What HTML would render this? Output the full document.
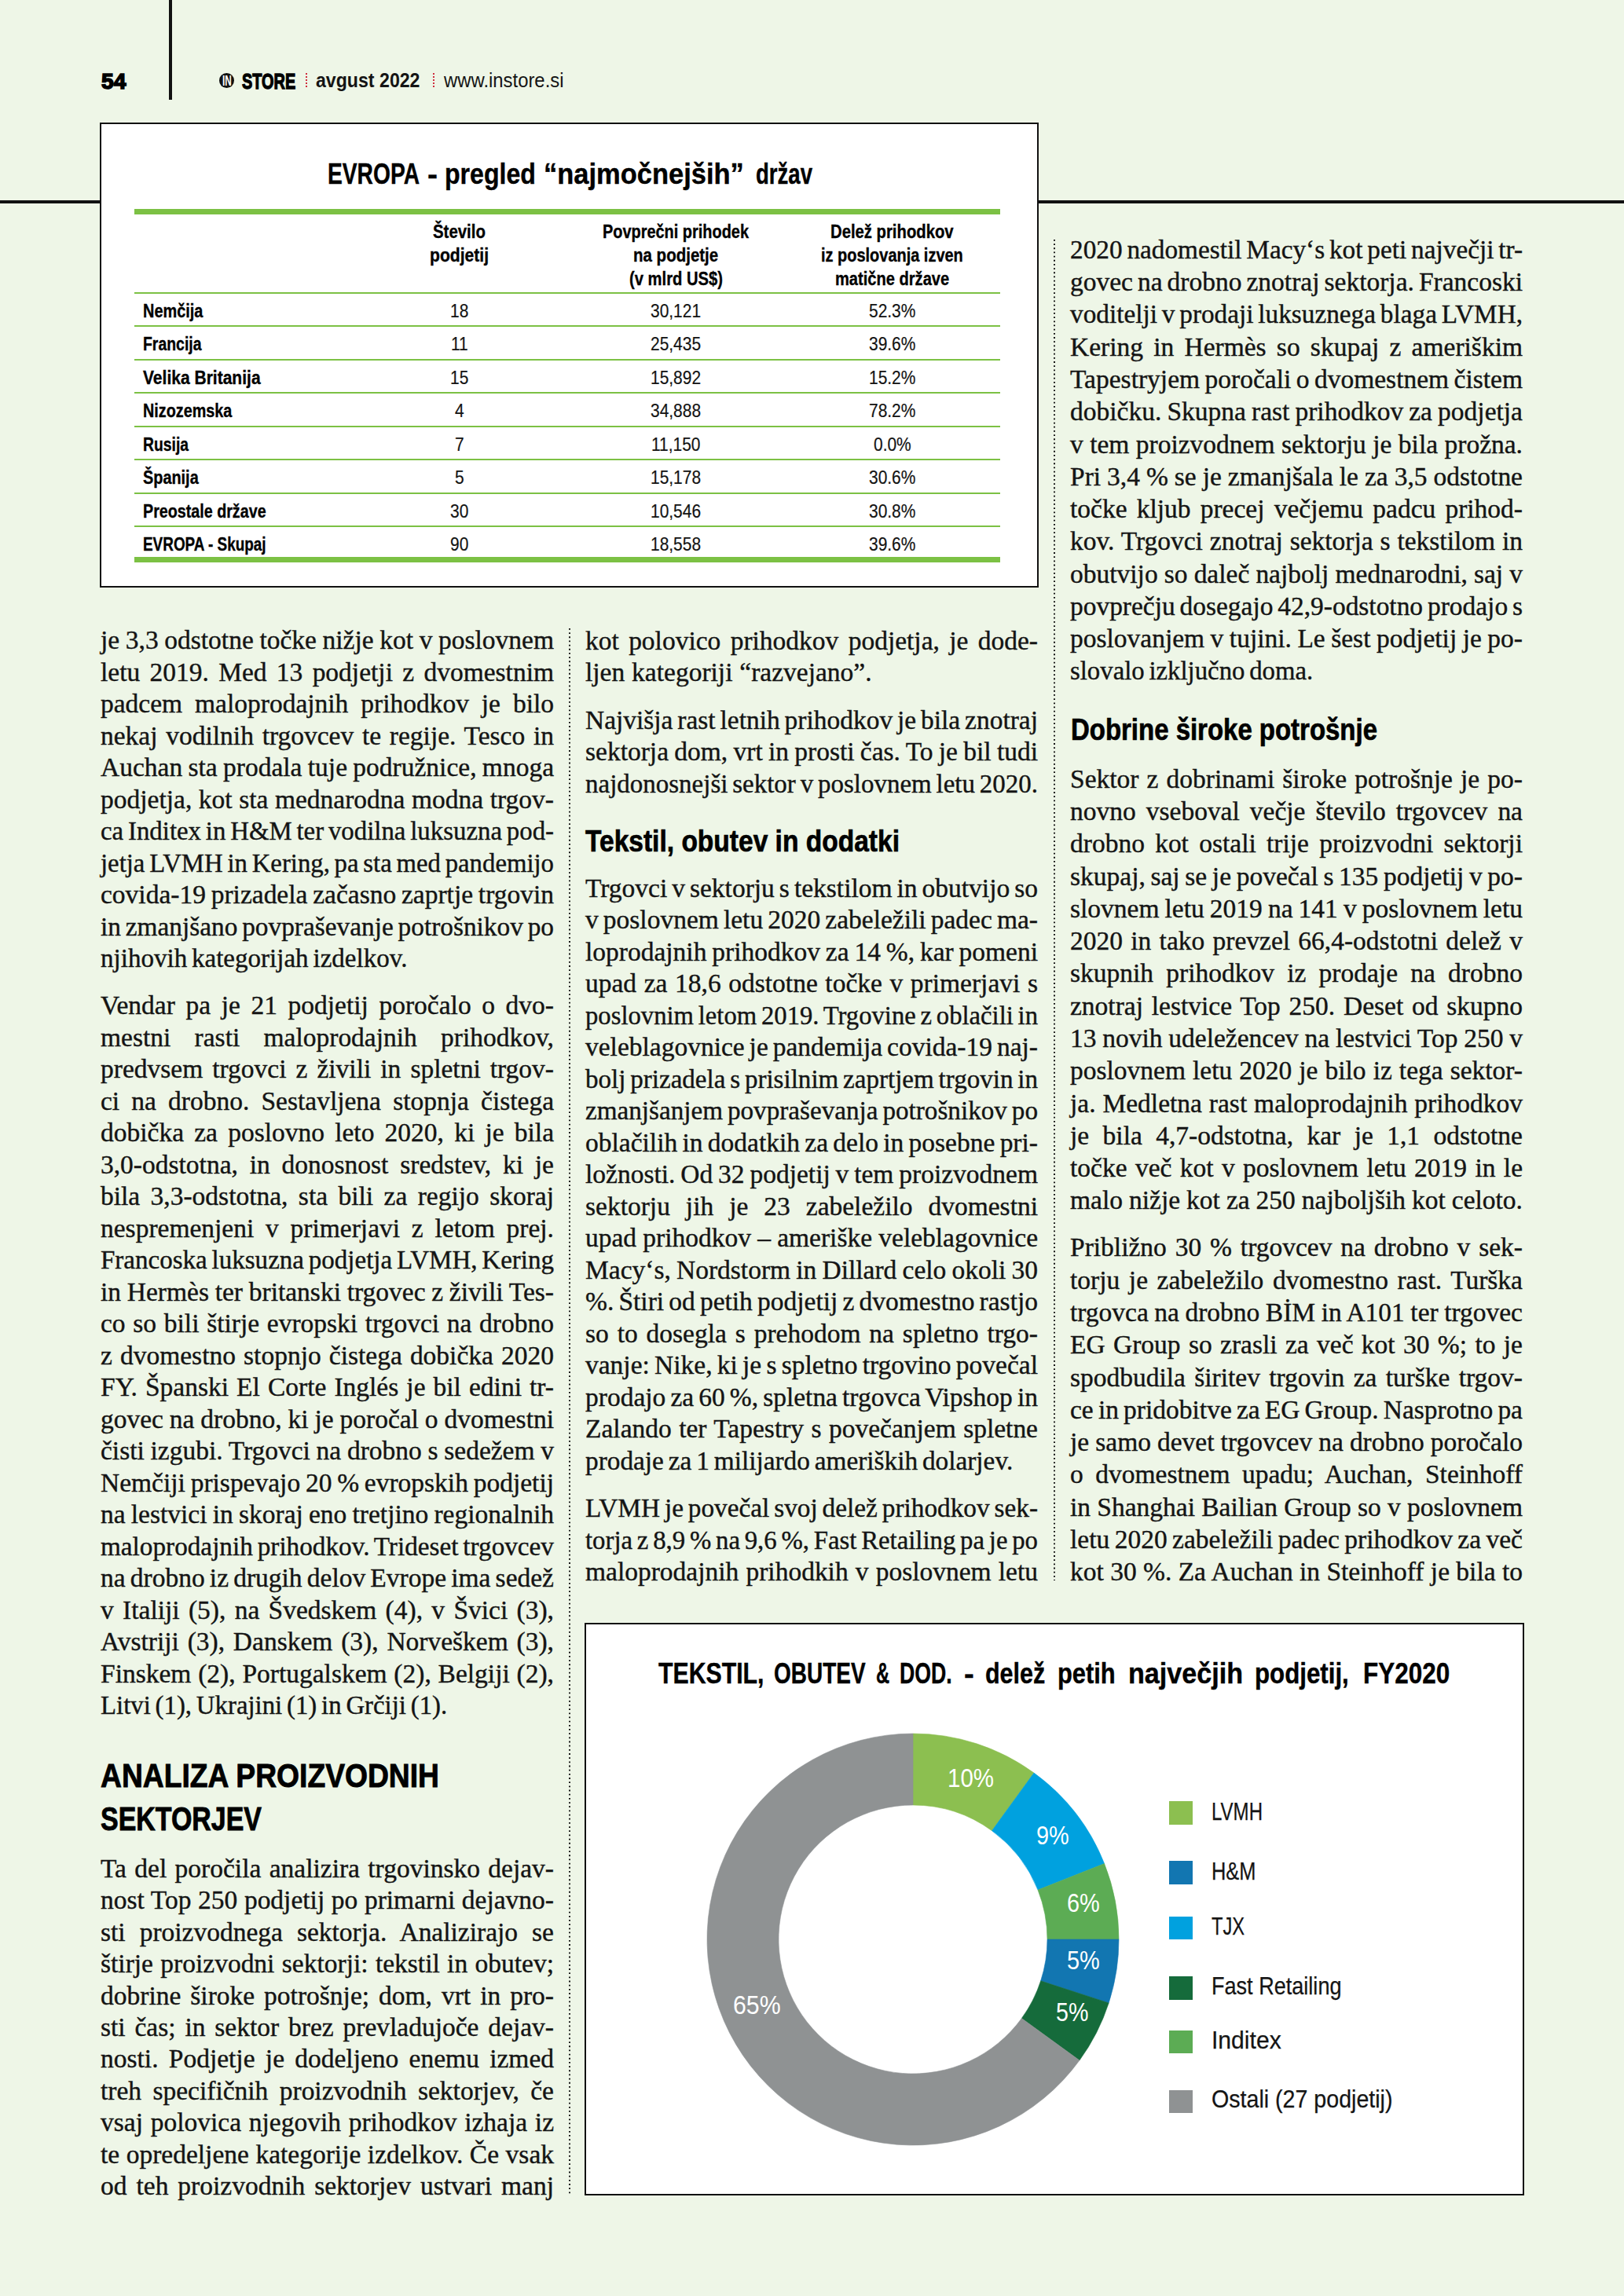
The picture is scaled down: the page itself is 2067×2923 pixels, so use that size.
<!DOCTYPE html>
<html lang="sl"><head><meta charset="utf-8"><title>inStore avgust 2022 - stran 54</title>
<style>
html,body{margin:0;padding:0}body{width:2067px;height:2923px;position:relative;overflow:hidden;background:#eef6e7}
p,h2,h3,ul,li,figure,figcaption,header,section,main{margin:0;padding:0;list-style:none}
.r{position:absolute;display:block}
.t{position:absolute;display:block;margin:0;white-space:nowrap;line-height:1.2;transform-origin:0 0}
.j{position:absolute;display:block;margin:0;line-height:1.2;text-align:justify;text-align-last:justify;white-space:nowrap;transform-origin:0 0}
.f0{font-family:'Liberation Sans', sans-serif;font-size:28.5px;font-weight:700;color:#000;-webkit-text-stroke:1.6px #000;}
.f1{font-family:'Liberation Sans', sans-serif;font-size:17.5px;font-weight:700;color:#fff;}
.f2{font-family:'Liberation Sans', sans-serif;font-size:28px;font-weight:700;color:#000;-webkit-text-stroke:1.3px #000;}
.f3{font-family:'Liberation Sans', sans-serif;font-size:25.5px;font-weight:700;color:#141414;}
.f4{font-family:'Liberation Sans', sans-serif;font-size:25.5px;font-weight:400;color:#141414;}
.f5{font-family:'Liberation Sans', sans-serif;font-size:36.5px;font-weight:700;color:#000;-webkit-text-stroke:0.4px #000;}
.f6{font-family:'Liberation Sans', sans-serif;font-size:23.5px;font-weight:700;color:#000;-webkit-text-stroke:0.35px #000;}
.f7{font-family:'Liberation Sans', sans-serif;font-size:23px;font-weight:400;color:#141414;-webkit-text-stroke:0.2px #141414;}
.f8{font-family:'Liberation Serif', serif;font-size:34.0px;font-weight:400;color:#141414;-webkit-text-stroke:0.4px #141414;word-spacing:-2.5px;}
.f9{font-family:'Liberation Sans', sans-serif;font-size:43px;font-weight:700;color:#000;-webkit-text-stroke:0.9px #000;}
.f10{font-family:'Liberation Sans', sans-serif;font-size:38px;font-weight:700;color:#000;-webkit-text-stroke:0.7px #000;}
.f11{font-family:'Liberation Sans', sans-serif;font-size:36px;font-weight:700;color:#000;-webkit-text-stroke:0.4px #000;}
.f12{font-family:'Liberation Sans', sans-serif;font-size:32.5px;font-weight:400;color:#fff;}
.f13{font-family:'Liberation Sans', sans-serif;font-size:30.5px;font-weight:400;color:#141414;-webkit-text-stroke:0.25px #141414;}
</style></head>
<body>
<header>
<div class="t f0" style="left:128.60px;top:86.20px;transform:scaleX(0.9904)">54</div>
<div class="r" style="left:215.00px;top:0.00px;width:3.60px;height:127.20px;background:#111;"></div>
<div class="r" style="left:279.4px;top:93.0px;width:18.8px;height:18.8px;border-radius:50%;background:#111"></div>
<div class="t f1" style="left:282.90px;top:92.60px;transform:scaleX(0.6743)">IN</div>
<div class="t f2" style="left:308.40px;top:86.90px;transform:scaleX(0.7108)">STORE</div>
<div class="r" style="left:389.0px;top:93.2px;width:1.8px;height:18px;background:repeating-linear-gradient(to bottom,#cf2e3e 0 1.8px,transparent 1.8px 4px)"></div>
<div class="t f3" style="left:401.60px;top:87.40px;transform:scaleX(0.9074)">avgust 2022</div>
<div class="r" style="left:551.2px;top:93.2px;width:1.8px;height:18px;background:repeating-linear-gradient(to bottom,#cf2e3e 0 1.8px,transparent 1.8px 4px)"></div>
<div class="t f4" style="left:564.60px;top:87.40px;transform:scaleX(0.9358)">www.instore.si</div>
<div class="r" style="left:0.00px;top:254.80px;width:2067.00px;height:4.40px;background:#111;"></div>
</header>
<section class="tablebox">
<div class="r" style="left:127.4px;top:156.3px;width:1194.9px;height:591.9px;box-sizing:border-box;border:2.8px solid #111;background:#fff"></div>
<h2>
<span class="t f5" style="left:417.10px;top:199.50px;transform:scaleX(0.7726)">EVROPA</span>
 
<span class="t f5" style="left:543.50px;top:199.50px;transform:scaleX(1.0694)">-</span>
 
<span class="t f5" style="left:565.80px;top:199.50px;transform:scaleX(0.8783)">pregled</span>
 
<span class="t f5" style="left:691.80px;top:199.50px;transform:scaleX(0.9445)">“najmočnejših”</span>
 
<span class="t f5" style="left:962.00px;top:199.50px;transform:scaleX(0.7550)">držav</span>
</h2>
<div class="r" style="left:170.60px;top:266.40px;width:1102.80px;height:6.80px;background:#7cc144;"></div>
<div class="thead">
<div class="th">
<span class="t f6" style="left:550.95px;top:281.00px;transform:scaleX(0.8681)">Število</span>
<span class="t f6" style="left:546.85px;top:310.80px;transform:scaleX(0.8989)">podjetij</span>
</div>
<div class="th">
<span class="t f6" style="left:767.00px;top:281.00px;transform:scaleX(0.8478)">Povprečni prihodek</span>
<span class="t f6" style="left:805.90px;top:310.80px;transform:scaleX(0.8723)">na podjetje</span>
<span class="t f6" style="left:800.50px;top:340.60px;transform:scaleX(0.8597)">(v mlrd US$)</span>
</div>
<div class="th">
<span class="t f6" style="left:1057.20px;top:281.00px;transform:scaleX(0.8627)">Delež prihodkov</span>
<span class="t f6" style="left:1045.10px;top:310.80px;transform:scaleX(0.8493)">iz poslovanja izven</span>
<span class="t f6" style="left:1062.90px;top:340.60px;transform:scaleX(0.8551)">matične države</span>
</div>
</div>
<div class="tr">
<div class="r" style="left:170.60px;top:371.70px;width:1102.80px;height:2.20px;background:#7cc144;"></div>
<span class="t f6" style="left:181.70px;top:381.50px;transform:scaleX(0.8476)">Nemčija</span>
<span class="t f7" style="left:572.75px;top:382.50px;transform:scaleX(0.9100)">18</span>
<span class="t f7" style="left:827.99px;top:382.50px;transform:scaleX(0.9100)">30,121</span>
<span class="t f7" style="left:1105.83px;top:382.50px;transform:scaleX(0.9100)">52.3%</span>
</div>
<div class="tr">
<div class="r" style="left:170.60px;top:414.20px;width:1102.80px;height:2.20px;background:#7cc144;"></div>
<span class="t f6" style="left:181.70px;top:424.00px;transform:scaleX(0.8266)">Francija</span>
<span class="t f7" style="left:573.53px;top:425.00px;transform:scaleX(0.9100)">11</span>
<span class="t f7" style="left:827.99px;top:425.00px;transform:scaleX(0.9100)">25,435</span>
<span class="t f7" style="left:1105.83px;top:425.00px;transform:scaleX(0.9100)">39.6%</span>
</div>
<div class="tr">
<div class="r" style="left:170.60px;top:456.70px;width:1102.80px;height:2.20px;background:#7cc144;"></div>
<span class="t f6" style="left:181.70px;top:466.50px;transform:scaleX(0.8947)">Velika Britanija</span>
<span class="t f7" style="left:572.75px;top:467.50px;transform:scaleX(0.9100)">15</span>
<span class="t f7" style="left:827.99px;top:467.50px;transform:scaleX(0.9100)">15,892</span>
<span class="t f7" style="left:1105.83px;top:467.50px;transform:scaleX(0.9100)">15.2%</span>
</div>
<div class="tr">
<div class="r" style="left:170.60px;top:499.20px;width:1102.80px;height:2.20px;background:#7cc144;"></div>
<span class="t f6" style="left:181.70px;top:509.00px;transform:scaleX(0.8422)">Nizozemska</span>
<span class="t f7" style="left:578.58px;top:510.00px;transform:scaleX(0.9100)">4</span>
<span class="t f7" style="left:827.99px;top:510.00px;transform:scaleX(0.9100)">34,888</span>
<span class="t f7" style="left:1105.83px;top:510.00px;transform:scaleX(0.9100)">78.2%</span>
</div>
<div class="tr">
<div class="r" style="left:170.60px;top:541.70px;width:1102.80px;height:2.20px;background:#7cc144;"></div>
<span class="t f6" style="left:181.70px;top:551.50px;transform:scaleX(0.8223)">Rusija</span>
<span class="t f7" style="left:578.58px;top:552.50px;transform:scaleX(0.9100)">7</span>
<span class="t f7" style="left:828.77px;top:552.50px;transform:scaleX(0.9100)">11,150</span>
<span class="t f7" style="left:1111.64px;top:552.50px;transform:scaleX(0.9100)">0.0%</span>
</div>
<div class="tr">
<div class="r" style="left:170.60px;top:584.20px;width:1102.80px;height:2.20px;background:#7cc144;"></div>
<span class="t f6" style="left:181.70px;top:594.00px;transform:scaleX(0.8458)">Španija</span>
<span class="t f7" style="left:578.58px;top:595.00px;transform:scaleX(0.9100)">5</span>
<span class="t f7" style="left:827.99px;top:595.00px;transform:scaleX(0.9100)">15,178</span>
<span class="t f7" style="left:1105.83px;top:595.00px;transform:scaleX(0.9100)">30.6%</span>
</div>
<div class="tr">
<div class="r" style="left:170.60px;top:626.70px;width:1102.80px;height:2.20px;background:#7cc144;"></div>
<span class="t f6" style="left:181.70px;top:636.50px;transform:scaleX(0.8383)">Preostale države</span>
<span class="t f7" style="left:572.75px;top:637.50px;transform:scaleX(0.9100)">30</span>
<span class="t f7" style="left:827.99px;top:637.50px;transform:scaleX(0.9100)">10,546</span>
<span class="t f7" style="left:1105.83px;top:637.50px;transform:scaleX(0.9100)">30.8%</span>
</div>
<div class="tr">
<div class="r" style="left:170.60px;top:669.20px;width:1102.80px;height:2.20px;background:#7cc144;"></div>
<span class="t f6" style="left:181.70px;top:679.00px;transform:scaleX(0.8048)">EVROPA - Skupaj</span>
<span class="t f7" style="left:572.75px;top:680.00px;transform:scaleX(0.9100)">90</span>
<span class="t f7" style="left:827.99px;top:680.00px;transform:scaleX(0.9100)">18,558</span>
<span class="t f7" style="left:1105.83px;top:680.00px;transform:scaleX(0.9100)">39.6%</span>
</div>
<div class="r" style="left:170.60px;top:709.00px;width:1102.80px;height:7.40px;background:#7cc144;"></div>
</section>
<main>
<div class="col c1">
<p>
<span class="j f8" style="left:128.30px;top:795.00px;width:585.79px;transform:scaleX(0.985)">je 3,3 odstotne točke nižje kot v poslovnem</span>
<span class="j f8" style="left:128.30px;top:835.50px;width:585.79px;transform:scaleX(0.985)">letu 2019. Med 13 podjetji z dvomestnim</span>
<span class="j f8" style="left:128.30px;top:876.00px;width:585.79px;transform:scaleX(0.985)">padcem maloprodajnih prihodkov je bilo</span>
<span class="j f8" style="left:128.30px;top:916.50px;width:585.79px;transform:scaleX(0.985)">nekaj vodilnih trgovcev te regije. Tesco in</span>
<span class="j f8" style="left:128.30px;top:957.00px;width:585.79px;transform:scaleX(0.985)">Auchan sta prodala tuje podružnice, mnoga</span>
<span class="j f8" style="left:128.30px;top:997.50px;width:585.79px;transform:scaleX(0.985)">podjetja, kot sta mednarodna modna trgov-</span>
<span class="t f8" style="left:128.30px;top:1038.00px;transform:scaleX(0.9662)">ca Inditex in H&amp;M ter vodilna luksuzna pod-</span>
<span class="t f8" style="left:128.30px;top:1078.50px;transform:scaleX(0.9636)">jetja LVMH in Kering, pa sta med pandemijo</span>
<span class="j f8" style="left:128.30px;top:1119.00px;width:585.79px;transform:scaleX(0.985)">covida-19 prizadela začasno zaprtje trgovin</span>
<span class="t f8" style="left:128.30px;top:1159.50px;transform:scaleX(0.9802)">in zmanjšano povpraševanje potrošnikov po</span>
<span class="t f8" style="left:128.30px;top:1200.00px;transform:scaleX(0.9720)">njihovih kategorijah izdelkov.</span>
</p>
<p>
<span class="j f8" style="left:128.30px;top:1260.30px;width:585.79px;transform:scaleX(0.985)">Vendar pa je 21 podjetij poročalo o dvo-</span>
<span class="j f8" style="left:128.30px;top:1300.80px;width:585.79px;transform:scaleX(0.985)">mestni rasti maloprodajnih prihodkov,</span>
<span class="j f8" style="left:128.30px;top:1341.30px;width:585.79px;transform:scaleX(0.985)">predvsem trgovci z živili in spletni trgov-</span>
<span class="j f8" style="left:128.30px;top:1381.80px;width:585.79px;transform:scaleX(0.985)">ci na drobno. Sestavljena stopnja čistega</span>
<span class="j f8" style="left:128.30px;top:1422.30px;width:585.79px;transform:scaleX(0.985)">dobička za poslovno leto 2020, ki je bila</span>
<span class="j f8" style="left:128.30px;top:1462.80px;width:585.79px;transform:scaleX(0.985)">3,0-odstotna, in donosnost sredstev, ki je</span>
<span class="j f8" style="left:128.30px;top:1503.30px;width:585.79px;transform:scaleX(0.985)">bila 3,3-odstotna, sta bili za regijo skoraj</span>
<span class="j f8" style="left:128.30px;top:1543.80px;width:585.79px;transform:scaleX(0.985)">nespremenjeni v primerjavi z letom prej.</span>
<span class="t f8" style="left:128.30px;top:1584.30px;transform:scaleX(0.9714)">Francoska luksuzna podjetja LVMH, Kering</span>
<span class="j f8" style="left:128.30px;top:1624.80px;width:585.79px;transform:scaleX(0.985)">in Hermès ter britanski trgovec z živili Tes-</span>
<span class="j f8" style="left:128.30px;top:1665.30px;width:585.79px;transform:scaleX(0.985)">co so bili štirje evropski trgovci na drobno</span>
<span class="j f8" style="left:128.30px;top:1705.80px;width:585.79px;transform:scaleX(0.985)">z dvomestno stopnjo čistega dobička 2020</span>
<span class="j f8" style="left:128.30px;top:1746.30px;width:585.79px;transform:scaleX(0.985)">FY. Španski El Corte Inglés je bil edini tr-</span>
<span class="j f8" style="left:128.30px;top:1786.80px;width:585.79px;transform:scaleX(0.985)">govec na drobno, ki je poročal o dvomestni</span>
<span class="j f8" style="left:128.30px;top:1827.30px;width:585.79px;transform:scaleX(0.985)">čisti izgubi. Trgovci na drobno s sedežem v</span>
<span class="j f8" style="left:128.30px;top:1867.80px;width:585.79px;transform:scaleX(0.985)">Nemčiji prispevajo 20 % evropskih podjetij</span>
<span class="j f8" style="left:128.30px;top:1908.30px;width:585.79px;transform:scaleX(0.985)">na lestvici in skoraj eno tretjino regionalnih</span>
<span class="t f8" style="left:128.30px;top:1948.80px;transform:scaleX(0.9775)">maloprodajnih prihodkov. Trideset trgovcev</span>
<span class="j f8" style="left:128.30px;top:1989.30px;width:585.79px;transform:scaleX(0.985)">na drobno iz drugih delov Evrope ima sedež</span>
<span class="j f8" style="left:128.30px;top:2029.80px;width:585.79px;transform:scaleX(0.985)">v Italiji (5), na Švedskem (4), v Švici (3),</span>
<span class="j f8" style="left:128.30px;top:2070.30px;width:585.79px;transform:scaleX(0.985)">Avstriji (3), Danskem (3), Norveškem (3),</span>
<span class="j f8" style="left:128.30px;top:2110.80px;width:585.79px;transform:scaleX(0.985)">Finskem (2), Portugalskem (2), Belgiji (2),</span>
<span class="t f8" style="left:128.30px;top:2151.30px;transform:scaleX(0.9652)">Litvi (1), Ukrajini (1) in Grčiji (1).</span>
</p>
<h2>
<span class="t f9" style="left:127.60px;top:2235.30px;transform:scaleX(0.8660)">ANALIZA PROIZVODNIH</span>
<span class="t f9" style="left:127.60px;top:2289.50px;transform:scaleX(0.7894)">SEKTORJEV</span>
</h2>
<p>
<span class="j f8" style="left:128.30px;top:2358.90px;width:585.79px;transform:scaleX(0.985)">Ta del poročila analizira trgovinsko dejav-</span>
<span class="j f8" style="left:128.30px;top:2399.33px;width:585.79px;transform:scaleX(0.985)">nost Top 250 podjetij po primarni dejavno-</span>
<span class="j f8" style="left:128.30px;top:2439.76px;width:585.79px;transform:scaleX(0.985)">sti proizvodnega sektorja. Analizirajo se</span>
<span class="j f8" style="left:128.30px;top:2480.19px;width:585.79px;transform:scaleX(0.985)">štirje proizvodni sektorji: tekstil in obutev;</span>
<span class="j f8" style="left:128.30px;top:2520.62px;width:585.79px;transform:scaleX(0.985)">dobrine široke potrošnje; dom, vrt in pro-</span>
<span class="j f8" style="left:128.30px;top:2561.05px;width:585.79px;transform:scaleX(0.985)">sti čas; in sektor brez prevladujoče dejav-</span>
<span class="j f8" style="left:128.30px;top:2601.48px;width:585.79px;transform:scaleX(0.985)">nosti. Podjetje je dodeljeno enemu izmed</span>
<span class="j f8" style="left:128.30px;top:2641.91px;width:585.79px;transform:scaleX(0.985)">treh specifičnih proizvodnih sektorjev, če</span>
<span class="j f8" style="left:128.30px;top:2682.34px;width:585.79px;transform:scaleX(0.985)">vsaj polovica njegovih prihodkov izhaja iz</span>
<span class="j f8" style="left:128.30px;top:2722.77px;width:585.79px;transform:scaleX(0.985)">te opredeljene kategorije izdelkov. Če vsak</span>
<span class="j f8" style="left:128.30px;top:2763.20px;width:585.79px;transform:scaleX(0.985)">od teh proizvodnih sektorjev ustvari manj</span>
</p>
</div>
<svg class="r" style="left:723.05px;top:800.10px" width="4" height="1994.40"><line x1="2" y1="0" x2="2" y2="1994.40" stroke="#151515" stroke-width="2" stroke-dasharray="1.8 3.37"/></svg>
<div class="col c2">
<p>
<span class="j f8" style="left:744.80px;top:795.50px;width:584.77px;transform:scaleX(0.985)">kot polovico prihodkov podjetja, je dode-</span>
<span class="j f8" style="left:744.80px;top:836.00px;width:370.15px;transform:scaleX(0.985)">ljen kategoriji “razvejano”.</span>
</p>
<p>
<span class="t f8" style="left:744.80px;top:896.50px;transform:scaleX(0.9837)">Najvišja rast letnih prihodkov je bila znotraj</span>
<span class="j f8" style="left:744.80px;top:937.00px;width:584.77px;transform:scaleX(0.985)">sektorja dom, vrt in prosti čas. To je bil tudi</span>
<span class="t f8" style="left:744.80px;top:977.50px;transform:scaleX(0.9701)">najdonosnejši sektor v poslovnem letu 2020.</span>
</p>
<h3 class="t f10" style="left:745.00px;top:1048.50px;transform:scaleX(0.8825)">Tekstil, obutev in dodatki</h3>
<p>
<span class="j f8" style="left:744.80px;top:1111.00px;width:584.77px;transform:scaleX(0.985)">Trgovci v sektorju s tekstilom in obutvijo so</span>
<span class="j f8" style="left:744.80px;top:1151.49px;width:584.77px;transform:scaleX(0.985)">v poslovnem letu 2020 zabeležili padec ma-</span>
<span class="j f8" style="left:744.80px;top:1191.98px;width:584.77px;transform:scaleX(0.985)">loprodajnih prihodkov za 14 %, kar pomeni</span>
<span class="j f8" style="left:744.80px;top:1232.47px;width:584.77px;transform:scaleX(0.985)">upad za 18,6 odstotne točke v primerjavi s</span>
<span class="t f8" style="left:744.80px;top:1272.96px;transform:scaleX(0.9613)">poslovnim letom 2019. Trgovine z oblačili in</span>
<span class="j f8" style="left:744.80px;top:1313.45px;width:584.77px;transform:scaleX(0.985)">veleblagovnice je pandemija covida-19 naj-</span>
<span class="t f8" style="left:744.80px;top:1353.94px;transform:scaleX(0.9722)">bolj prizadela s prisilnim zaprtjem trgovin in</span>
<span class="t f8" style="left:744.80px;top:1394.43px;transform:scaleX(0.9759)">zmanjšanjem povpraševanja potrošnikov po</span>
<span class="j f8" style="left:744.80px;top:1434.92px;width:584.77px;transform:scaleX(0.985)">oblačilih in dodatkih za delo in posebne pri-</span>
<span class="j f8" style="left:744.80px;top:1475.41px;width:584.77px;transform:scaleX(0.985)">ložnosti. Od 32 podjetij v tem proizvodnem</span>
<span class="j f8" style="left:744.80px;top:1515.90px;width:584.77px;transform:scaleX(0.985)">sektorju jih je 23 zabeležilo dvomestni</span>
<span class="j f8" style="left:744.80px;top:1556.39px;width:584.77px;transform:scaleX(0.985)">upad prihodkov – ameriške veleblagovnice</span>
<span class="j f8" style="left:744.80px;top:1596.88px;width:584.77px;transform:scaleX(0.985)">Macy‘s, Nordstorm in Dillard celo okoli 30</span>
<span class="j f8" style="left:744.80px;top:1637.37px;width:584.77px;transform:scaleX(0.985)">%. Štiri od petih podjetij z dvomestno rastjo</span>
<span class="j f8" style="left:744.80px;top:1677.86px;width:584.77px;transform:scaleX(0.985)">so to dosegla s prehodom na spletno trgo-</span>
<span class="j f8" style="left:744.80px;top:1718.35px;width:584.77px;transform:scaleX(0.985)">vanje: Nike, ki je s spletno trgovino povečal</span>
<span class="j f8" style="left:744.80px;top:1758.84px;width:584.77px;transform:scaleX(0.985)">prodajo za 60 %, spletna trgovca Vipshop in</span>
<span class="j f8" style="left:744.80px;top:1799.33px;width:584.77px;transform:scaleX(0.985)">Zalando ter Tapestry s povečanjem spletne</span>
<span class="t f8" style="left:744.80px;top:1839.82px;transform:scaleX(0.9796)">prodaje za 1 milijardo ameriških dolarjev.</span>
</p>
<p>
<span class="t f8" style="left:744.80px;top:1900.20px;transform:scaleX(0.9795)">LVMH je povečal svoj delež prihodkov sek-</span>
<span class="t f8" style="left:744.80px;top:1940.80px;transform:scaleX(0.9639)">torja z 8,9 % na 9,6 %, Fast Retailing pa je po</span>
<span class="j f8" style="left:744.80px;top:1981.40px;width:584.77px;transform:scaleX(0.985)">maloprodajnih prihodkih v poslovnem letu</span>
</p>
</div>
<svg class="r" style="left:1339.80px;top:305.00px" width="4" height="1707.00"><line x1="2" y1="0" x2="2" y2="1707.00" stroke="#151515" stroke-width="2" stroke-dasharray="1.8 3.37"/></svg>
<div class="col c3">
<p>
<span class="t f8" style="left:1362.30px;top:297.90px;transform:scaleX(0.9786)">2020 nadomestil Macy‘s kot peti največji tr-</span>
<span class="j f8" style="left:1362.30px;top:339.17px;width:584.77px;transform:scaleX(0.985)">govec na drobno znotraj sektorja. Francoski</span>
<span class="t f8" style="left:1362.30px;top:380.44px;transform:scaleX(0.9784)">voditelji v prodaji luksuznega blaga LVMH,</span>
<span class="j f8" style="left:1362.30px;top:421.71px;width:584.77px;transform:scaleX(0.985)">Kering in Hermès so skupaj z ameriškim</span>
<span class="j f8" style="left:1362.30px;top:462.98px;width:584.77px;transform:scaleX(0.985)">Tapestryjem poročali o dvomestnem čistem</span>
<span class="j f8" style="left:1362.30px;top:504.25px;width:584.77px;transform:scaleX(0.985)">dobičku. Skupna rast prihodkov za podjetja</span>
<span class="j f8" style="left:1362.30px;top:545.52px;width:584.77px;transform:scaleX(0.985)">v tem proizvodnem sektorju je bila prožna.</span>
<span class="j f8" style="left:1362.30px;top:586.79px;width:584.77px;transform:scaleX(0.985)">Pri 3,4 % se je zmanjšala le za 3,5 odstotne</span>
<span class="j f8" style="left:1362.30px;top:628.06px;width:584.77px;transform:scaleX(0.985)">točke kljub precej večjemu padcu prihod-</span>
<span class="j f8" style="left:1362.30px;top:669.33px;width:584.77px;transform:scaleX(0.985)">kov. Trgovci znotraj sektorja s tekstilom in</span>
<span class="j f8" style="left:1362.30px;top:710.60px;width:584.77px;transform:scaleX(0.985)">obutvijo so daleč najbolj mednarodni, saj v</span>
<span class="t f8" style="left:1362.30px;top:751.87px;transform:scaleX(0.9832)">povprečju dosegajo 42,9-odstotno prodajo s</span>
<span class="j f8" style="left:1362.30px;top:793.14px;width:584.77px;transform:scaleX(0.985)">poslovanjem v tujini. Le šest podjetij je po-</span>
<span class="t f8" style="left:1362.30px;top:834.41px;transform:scaleX(0.9639)">slovalo izključno doma.</span>
</p>
<h3 class="t f10" style="left:1362.50px;top:907.00px;transform:scaleX(0.8671)">Dobrine široke potrošnje</h3>
<p>
<span class="j f8" style="left:1362.30px;top:971.80px;width:584.77px;transform:scaleX(0.985)">Sektor z dobrinami široke potrošnje je po-</span>
<span class="j f8" style="left:1362.30px;top:1013.07px;width:584.77px;transform:scaleX(0.985)">novno vseboval večje število trgovcev na</span>
<span class="j f8" style="left:1362.30px;top:1054.34px;width:584.77px;transform:scaleX(0.985)">drobno kot ostali trije proizvodni sektorji</span>
<span class="j f8" style="left:1362.30px;top:1095.61px;width:584.77px;transform:scaleX(0.985)">skupaj, saj se je povečal s 135 podjetij v po-</span>
<span class="j f8" style="left:1362.30px;top:1136.88px;width:584.77px;transform:scaleX(0.985)">slovnem letu 2019 na 141 v poslovnem letu</span>
<span class="j f8" style="left:1362.30px;top:1178.15px;width:584.77px;transform:scaleX(0.985)">2020 in tako prevzel 66,4-odstotni delež v</span>
<span class="j f8" style="left:1362.30px;top:1219.42px;width:584.77px;transform:scaleX(0.985)">skupnih prihodkov iz prodaje na drobno</span>
<span class="j f8" style="left:1362.30px;top:1260.69px;width:584.77px;transform:scaleX(0.985)">znotraj lestvice Top 250. Deset od skupno</span>
<span class="j f8" style="left:1362.30px;top:1301.96px;width:584.77px;transform:scaleX(0.985)">13 novih udeležencev na lestvici Top 250 v</span>
<span class="j f8" style="left:1362.30px;top:1343.23px;width:584.77px;transform:scaleX(0.985)">poslovnem letu 2020 je bilo iz tega sektor-</span>
<span class="j f8" style="left:1362.30px;top:1384.50px;width:584.77px;transform:scaleX(0.985)">ja. Medletna rast maloprodajnih prihodkov</span>
<span class="j f8" style="left:1362.30px;top:1425.77px;width:584.77px;transform:scaleX(0.985)">je bila 4,7-odstotna, kar je 1,1 odstotne</span>
<span class="j f8" style="left:1362.30px;top:1467.04px;width:584.77px;transform:scaleX(0.985)">točke več kot v poslovnem letu 2019 in le</span>
<span class="j f8" style="left:1362.30px;top:1508.31px;width:584.77px;transform:scaleX(0.985)">malo nižje kot za 250 najboljših kot celoto.</span>
</p>
<p>
<span class="j f8" style="left:1362.30px;top:1568.30px;width:584.77px;transform:scaleX(0.985)">Približno 30 % trgovcev na drobno v sek-</span>
<span class="j f8" style="left:1362.30px;top:1609.60px;width:584.77px;transform:scaleX(0.985)">torju je zabeležilo dvomestno rast. Turška</span>
<span class="j f8" style="left:1362.30px;top:1650.90px;width:584.77px;transform:scaleX(0.985)">trgovca na drobno BİM in A101 ter trgovec</span>
<span class="j f8" style="left:1362.30px;top:1692.20px;width:584.77px;transform:scaleX(0.985)">EG Group so zrasli za več kot 30 %; to je</span>
<span class="j f8" style="left:1362.30px;top:1733.50px;width:584.77px;transform:scaleX(0.985)">spodbudila širitev trgovin za turške trgov-</span>
<span class="j f8" style="left:1362.30px;top:1774.80px;width:584.77px;transform:scaleX(0.985)">ce in pridobitve za EG Group. Nasprotno pa</span>
<span class="j f8" style="left:1362.30px;top:1816.10px;width:584.77px;transform:scaleX(0.985)">je samo devet trgovcev na drobno poročalo</span>
<span class="j f8" style="left:1362.30px;top:1857.40px;width:584.77px;transform:scaleX(0.985)">o dvomestnem upadu; Auchan, Steinhoff</span>
<span class="j f8" style="left:1362.30px;top:1898.70px;width:584.77px;transform:scaleX(0.985)">in Shanghai Bailian Group so v poslovnem</span>
<span class="j f8" style="left:1362.30px;top:1940.00px;width:584.77px;transform:scaleX(0.985)">letu 2020 zabeležili padec prihodkov za več</span>
<span class="j f8" style="left:1362.30px;top:1981.30px;width:584.77px;transform:scaleX(0.985)">kot 30 %. Za Auchan in Steinhoff je bila to</span>
</p>
</div>
</main>
<figure>
<div class="r" style="left:744.2px;top:2066.3px;width:1195.5px;height:728.6px;box-sizing:border-box;border:2.6px solid #111;background:#fff"></div>
<figcaption>
<span class="t f11" style="left:837.90px;top:2109.40px;transform:scaleX(0.8406)">TEKSTIL,</span>
 
<span class="t f11" style="left:985.20px;top:2109.40px;transform:scaleX(0.7773)">OBUTEV</span>
 
<span class="t f11" style="left:1114.60px;top:2109.40px;transform:scaleX(0.6654)">&amp;</span>
 
<span class="t f11" style="left:1145.30px;top:2109.40px;transform:scaleX(0.7400)">DOD.</span>
 
<span class="t f11" style="left:1226.70px;top:2109.40px;transform:scaleX(1.0667)">-</span>
 
<span class="t f11" style="left:1254.20px;top:2109.40px;transform:scaleX(0.8462)">delež</span>
 
<span class="t f11" style="left:1346.40px;top:2109.40px;transform:scaleX(0.8570)">petih</span>
 
<span class="t f11" style="left:1436.10px;top:2109.40px;transform:scaleX(0.9476)">največjih</span>
 
<span class="t f11" style="left:1596.80px;top:2109.40px;transform:scaleX(0.8681)">podjetij,</span>
 
<span class="t f11" style="left:1734.50px;top:2109.40px;transform:scaleX(0.8740)">FY2020</span>
</figcaption>
<svg class="r" style="left:897.80px;top:2205.00px" width="528" height="528" viewBox="897.80 2205.00 528 528"><path d="M1161.80 2207.00A262.0 262.0 0 0 1 1315.80 2257.04L1262.31 2330.66A171.0 171.0 0 0 0 1161.80 2298.00Z" fill="#8cbf50" stroke="#8cbf50" stroke-width="0.6"/><path d="M1315.80 2257.04A262.0 262.0 0 0 1 1405.40 2372.55L1320.79 2406.05A171.0 171.0 0 0 0 1262.31 2330.66Z" fill="#00a1df" stroke="#00a1df" stroke-width="0.6"/><path d="M1405.40 2372.55A262.0 262.0 0 0 1 1423.80 2469.00L1332.80 2469.00A171.0 171.0 0 0 0 1320.79 2406.05Z" fill="#5cac54" stroke="#5cac54" stroke-width="0.6"/><path d="M1423.80 2469.00A262.0 262.0 0 0 1 1410.98 2549.96L1324.43 2521.84A171.0 171.0 0 0 0 1332.80 2469.00Z" fill="#1276b1" stroke="#1276b1" stroke-width="0.6"/><path d="M1410.98 2549.96A262.0 262.0 0 0 1 1373.76 2623.00L1300.14 2569.51A171.0 171.0 0 0 0 1324.43 2521.84Z" fill="#156b3b" stroke="#156b3b" stroke-width="0.6"/><path d="M1373.76 2623.00A262.0 262.0 0 1 1 1161.80 2207.00L1161.80 2298.00A171.0 171.0 0 1 0 1300.14 2569.51Z" fill="#8f9293" stroke="#8f9293" stroke-width="0.6"/></svg>
<span class="t f12" style="left:1205.50px;top:2244.80px;transform:scaleX(0.9068)">10%</span>
<span class="t f12" style="left:1319.15px;top:2318.30px;transform:scaleX(0.8875)">9%</span>
<span class="t f12" style="left:1357.70px;top:2404.00px;transform:scaleX(0.8897)">6%</span>
<span class="t f12" style="left:1357.70px;top:2476.70px;transform:scaleX(0.8897)">5%</span>
<span class="t f12" style="left:1344.00px;top:2542.50px;transform:scaleX(0.8811)">5%</span>
<span class="t f12" style="left:933.00px;top:2534.00px;transform:scaleX(0.9314)">65%</span>
<ul>
<li>
<div class="r" style="left:1488.10px;top:2293.20px;width:29.60px;height:29.50px;background:#8cbf50;"></div>
<span class="t f13" style="left:1542.00px;top:2287.50px;transform:scaleX(0.7880)">LVMH</span>
</li>
<li>
<div class="r" style="left:1488.10px;top:2369.40px;width:29.60px;height:29.50px;background:#1276b1;"></div>
<span class="t f13" style="left:1542.00px;top:2363.60px;transform:scaleX(0.8336)">H&amp;M</span>
</li>
<li>
<div class="r" style="left:1488.10px;top:2439.70px;width:29.60px;height:29.50px;background:#00a1df;"></div>
<span class="t f13" style="left:1542.00px;top:2433.80px;transform:scaleX(0.7763)">TJX</span>
</li>
<li>
<div class="r" style="left:1488.10px;top:2516.10px;width:29.60px;height:29.50px;background:#156b3b;"></div>
<span class="t f13" style="left:1542.00px;top:2510.30px;transform:scaleX(0.8875)">Fast Retailing</span>
</li>
<li>
<div class="r" style="left:1488.10px;top:2584.80px;width:29.60px;height:29.50px;background:#5cac54;"></div>
<span class="t f13" style="left:1542.00px;top:2578.60px;transform:scaleX(0.9869)">Inditex</span>
</li>
<li>
<div class="r" style="left:1488.10px;top:2660.90px;width:29.60px;height:29.50px;background:#8f9293;"></div>
<span class="t f13" style="left:1542.00px;top:2654.30px;transform:scaleX(0.9377)">Ostali (27 podjetij)</span>
</li>
</ul>
</figure>
</body></html>
